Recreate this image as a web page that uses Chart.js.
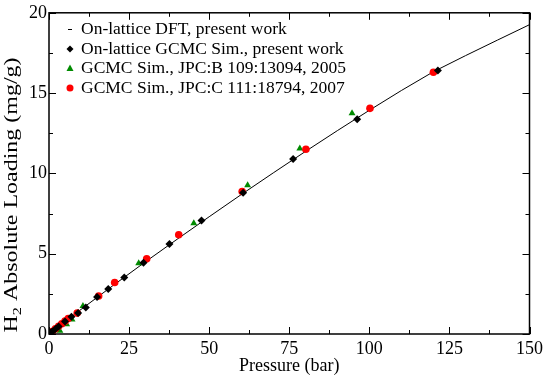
<!DOCTYPE html>
<html>
<head>
<meta charset="utf-8">
<script src="https://cdn.jsdelivr.net/npm/chart.js@4.4.1/dist/chart.umd.min.js"></script>
<style>
    body { margin: 0; background: #fff; }
    #warm { position: absolute; left: -999px; top: 0; font-family: 'Liberation Serif'; font-size: 18px; }
</style>
</head>
<body>
<canvas id="c" width="547" height="377"></canvas>
<div id="warm">Pressure 0123456789 H2</div>
<script>
// DFT curve
const dftP = [0, 10, 20, 30, 40, 50, 60, 70, 80, 90, 100, 110, 120, 130, 140, 150];
const dftL = [0, 1.53, 3.02, 4.48, 5.9, 7.3, 8.68, 10.03, 11.36, 12.66, 13.93, 15.16, 16.33, 17.33, 18.3, 19.26];

// on-lattice GCMC, present work
const gcmcP = [0.1, 0.5, 1, 2, 3, 5, 7, 9.1, 11.5, 15, 18.5, 23.5, 29.5, 37.6, 47.6, 60.6, 76.2, 96.2, 121.4];
const gcmcL = [0.02, 0.08, 0.16, 0.31, 0.47, 0.78, 1.08, 1.3, 1.65, 2.3, 2.8, 3.52, 4.44, 5.6, 7.06, 8.8, 10.9, 13.37, 16.4];

// GCMC Sim., JPC:B 109:13094, 2005
const jpcbP = [1, 3.4, 5.5, 7.2, 10.6, 28, 45.2, 62, 78.3, 94.6];
const jpcbL = [0.05, 0.2, 0.6, 0.9, 1.75, 4.4, 6.9, 9.26, 11.55, 13.74];

// GCMC Sim., JPC:C 111:18794, 2007
const jpccP = [0.1, 0.5, 1, 2, 3, 4, 5, 6, 8.8, 15.5, 20.5, 30.5, 40.5, 60.3, 80.2, 100.2, 120];
const jpccL = [0.02, 0.08, 0.16, 0.32, 0.48, 0.64, 0.8, 0.96, 1.3, 2.37, 3.21, 4.68, 6.18, 8.87, 11.5, 14.05, 16.3];

const xTicks = [0, 25, 50, 75, 100, 125, 150];
const yTicks = [0, 5, 10, 15, 20];

const serif = '"Liberation Serif", "Times New Roman", "DejaVu Serif", serif';

const pts = (xs, ys) => xs.map((x, i) => ({ x: x, y: ys[i] }));

// frame + inward ticks on all four sides, axis titles
const frame = {
    id: 'frame',
    afterDraw(chart) {
        const { ctx, chartArea: a, scales: { x, y } } = chart;
        ctx.save();
        ctx.strokeStyle = '#000';
        ctx.lineWidth = 1.5;
        ctx.strokeRect(a.left, a.top, a.right - a.left, a.bottom - a.top);
        ctx.lineWidth = 1;
        ctx.beginPath();
        for (let v = 0; v <= 150; v += 12.5) {
            const px = Math.round(x.getPixelForValue(v)) + 0.5;
            const len = v % 25 == 0 ? 7 : 4;
            ctx.moveTo(px, a.bottom); ctx.lineTo(px, a.bottom - len);
            ctx.moveTo(px, a.top); ctx.lineTo(px, a.top + len);
        }
        for (let v = 0; v <= 20; v += 2.5) {
            const py = Math.round(y.getPixelForValue(v)) + 0.5;
            const len = v % 5 == 0 ? 7 : 4;
            ctx.moveTo(a.left, py); ctx.lineTo(a.left + len, py);
            ctx.moveTo(a.right, py); ctx.lineTo(a.right - len, py);
        }
        ctx.stroke();

        ctx.fillStyle = '#000';
        ctx.font = '18px ' + serif;
        ctx.textAlign = 'center';
        ctx.textBaseline = 'middle';
        ctx.fillText('Pressure (bar)', (a.left + a.right) / 2, 366);

        // y title, stretched along its length like the reference
        ctx.translate(12, 195);
        ctx.rotate(-Math.PI / 2);
        ctx.textAlign = 'left';
        const big = '19px ' + serif, small = '13px ' + serif;
        const rest = ' Absolute Loading (mg/g)';
        ctx.font = big;
        const wH = ctx.measureText('H').width;
        const wR = ctx.measureText(rest).width;
        ctx.font = small;
        const w2 = ctx.measureText('2').width;
        const total = wH + w2 + wR;
        ctx.scale(275 / total, 1);
        let sx = -total / 2;
        ctx.font = big;
        ctx.fillText('H', sx, 0);
        ctx.font = small;
        ctx.fillText('2', sx + wH, 6);
        ctx.font = big;
        ctx.fillText(rest, sx + wH + w2, 0);
        ctx.restore();
    }
};

// legend inside the plot, top-left
const legendBox = {
    id: 'legendBox',
    afterDraw(chart) {
        const ctx = chart.ctx;
        const sets = chart.data.datasets;
        const ys = [29, 49, 68, 88];
        ctx.save();
        ctx.font = '17.5px ' + serif;
        ctx.textBaseline = 'middle';
        sets.forEach((ds, i) => {
            const cy = ys[i], cx = 70;
            ctx.fillStyle = ds.backgroundColor;
            ctx.strokeStyle = ds.borderColor;
            ctx.lineWidth = 1;
            ctx.beginPath();
            if (ds.pointStyle == 'rectRot') {
                ctx.moveTo(cx, cy - 3.5); ctx.lineTo(cx + 3.5, cy); ctx.lineTo(cx, cy + 3.5); ctx.lineTo(cx - 3.5, cy);
                ctx.closePath(); ctx.fill();
            } else if (ds.pointStyle == 'triangle') {
                ctx.moveTo(cx, cy - 3.5); ctx.lineTo(cx + 3.5, cy + 3); ctx.lineTo(cx - 3.5, cy + 3);
                ctx.closePath(); ctx.fill();
            } else if (ds.pointStyle == 'circle') {
                ctx.arc(cx, cy, 3.5, 0, Math.PI * 2); ctx.fill();
            } else {
                ctx.moveTo(cx - 2, cy + 0.5); ctx.lineTo(cx + 2, cy + 0.5); ctx.stroke();
            }
            ctx.fillStyle = '#000';
            ctx.fillText(ds.label, 81, cy);
        });
        ctx.restore();
    }
};

const makeChart = () => new Chart(document.getElementById('c').getContext('2d'), {
    type: 'scatter',
    data: {
        datasets: [{
            label: 'On-lattice DFT, present work',
            data: pts(dftP, dftL),
            showLine: true,
            borderColor: '#000',
            backgroundColor: '#000',
            borderWidth: 1,
            pointRadius: 0,
            pointStyle: 'line',
            order: 4
        }, {
            label: 'On-lattice GCMC Sim., present work',
            data: pts(gcmcP, gcmcL),
            pointStyle: 'rectRot',
            pointRadius: 4,
            borderWidth: 0,
            backgroundColor: '#000',
            borderColor: '#000',
            order: 1
        }, {
            label: 'GCMC Sim., JPC:B 109:13094, 2005',
            data: pts(jpcbP, jpcbL),
            pointStyle: 'triangle',
            pointRadius: 4,
            borderWidth: 0,
            backgroundColor: '#008b00',
            borderColor: '#008b00',
            order: 3
        }, {
            label: 'GCMC Sim., JPC:C 111:18794, 2007',
            data: pts(jpccP, jpccL),
            pointStyle: 'circle',
            pointRadius: 3.8,
            borderWidth: 0,
            backgroundColor: '#ff0000',
            borderColor: '#ff0000',
            order: 2
        }]
    },
    options: {
        responsive: false,
        animation: false,
        layout: {
            padding: { top: 8, right: 16, left: 0, bottom: 0 }
        },
        plugins: {
            legend: { display: false },
            tooltip: { enabled: false }
        },
        scales: {
            x: {
                type: 'linear',
                min: 0,
                max: 150,
                afterFit: (s) => { s.height = 43; },
                afterBuildTicks: (s) => { s.ticks = xTicks.map(v => ({ value: v })); },
                grid: { display: false, drawTicks: false },
                border: { display: false },
                ticks: {
                    color: '#000',
                    padding: 4,
                    font: { family: serif, size: 18 },
                    maxRotation: 0
                }
            },
            y: {
                type: 'linear',
                min: 0,
                max: 20,
                afterFit: (s) => { s.width = 49; },
                afterBuildTicks: (s) => { s.ticks = yTicks.map(v => ({ value: v })); },
                grid: { display: false, drawTicks: false },
                border: { display: false },
                ticks: {
                    color: '#000',
                    padding: 2,
                    font: { family: serif, size: 18 }
                }
            }
        }
    },
    plugins: [frame, legendBox]
});

document.fonts.load('18px "Liberation Serif"').then(makeChart, makeChart);
</script>
</body>
</html>
